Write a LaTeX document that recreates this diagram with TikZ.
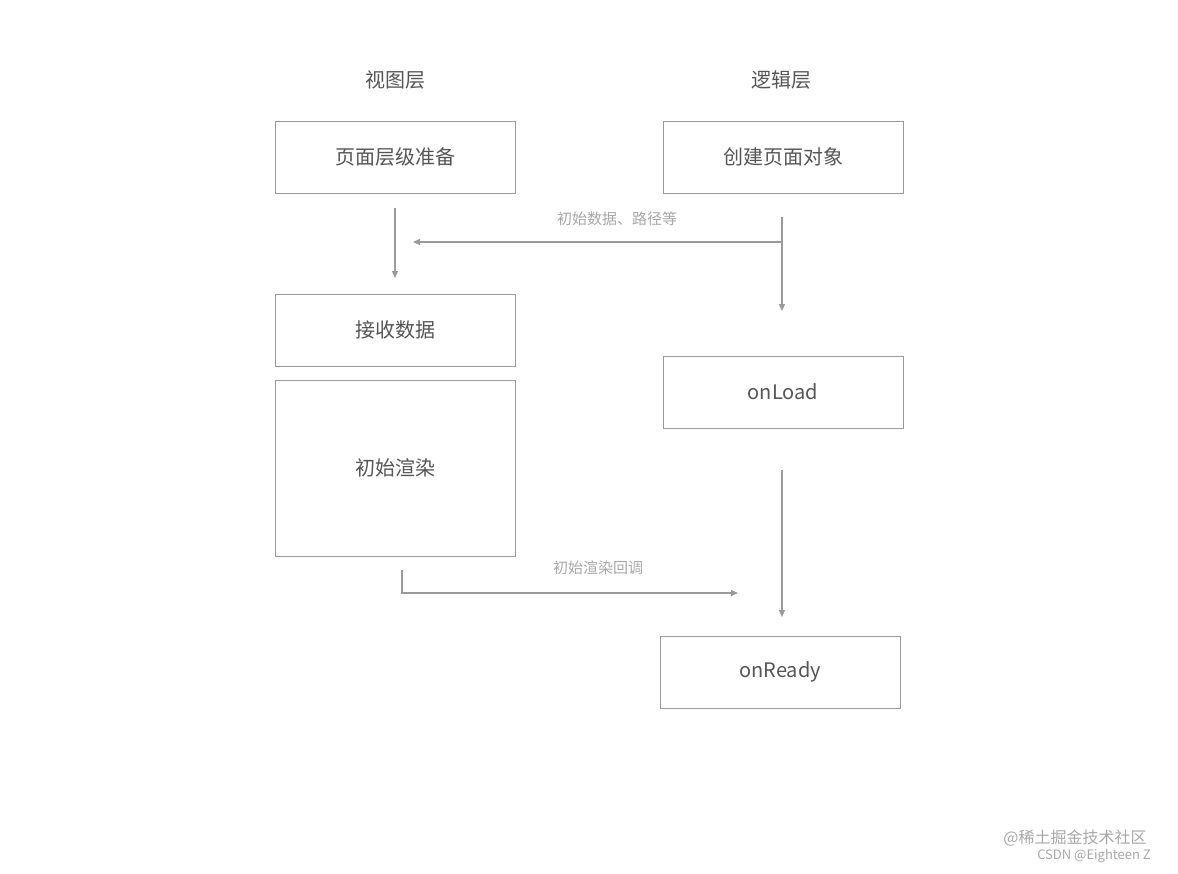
\documentclass[tikz,border=0pt]{standalone}
\usepackage{fontspec}
\setmainfont{Noto Sans CJK SC}
\usetikzlibrary{arrows.meta}
\definecolor{bx}{HTML}{9A9A9A}
\definecolor{tx}{HTML}{555555}
\definecolor{lb}{HTML}{A8A8A8}
\begin{document}
\begin{tikzpicture}[x=1pt,y=-1pt,
  box/.style={draw=bx,line width=1pt,text=tx,font=\fontsize{20}{24}\selectfont,inner sep=0pt},
  hd/.style={text=tx,font=\fontsize{20}{24}\selectfont},
  lab/.style={text=lb,font=\fontsize{15}{18}\selectfont},
  arr/.style={draw=bx,line width=1.2pt,-{Triangle[length=7pt,width=6pt]}}]
\useasboundingbox[fill=white] (0,0) rectangle (1178,873);
\node[hd] (h1) at (395,80) {视图层};
\node[hd] (h2) at (781,80) {逻辑层};
\node[box,minimum width=240pt,minimum height=72pt] (a) at (395,157) {页面层级准备};
\node[box,minimum width=240pt,minimum height=72pt] (b) at (783,157) {创建页面对象};
\node[box,minimum width=240pt,minimum height=72pt] (c) at (395,330) {接收数据};
\node[box,minimum width=240pt,minimum height=176pt] (d) at (395,468) {初始渲染};
\node[box,minimum width=240pt,minimum height=72pt] (e) at (783,392) {onLoad};
\node[box,minimum width=240pt,minimum height=72pt] (f) at (780,672) {onReady};
\coordinate (a1) at (395,208); \coordinate (a2) at (395,278);
\draw[arr] (a1) -- (a2);
\coordinate (b1) at (782,217); \coordinate (b2) at (782,311);
\coordinate (bm) at (782,242); \coordinate (bl) at (413,242);
\draw[arr] (b1) -- (b2);
\draw[arr] (bm) -- (bl);
\node[lab] (l1) at (617,219) {初始数据、路径等};
\coordinate (e1) at (782,470); \coordinate (e2) at (782,617);
\draw[arr] (e1) -- (e2);
\coordinate (d1) at (402,570); \coordinate (d2) at (402,593); \coordinate (d3) at (738,593);
\draw[arr] (d1) -- (d2) -- (d3);
\node[lab] (l2) at (598,568) {初始渲染回调};
\node[text=lb,font=\fontsize{16}{18}\selectfont] (w1) at (1075,838) {@稀土掘金技术社区};
\node[text=lb,font=\fontsize{13}{15}\selectfont] (w2) at (1094,856) {CSDN @Eighteen Z};
\end{tikzpicture}
\end{document}
